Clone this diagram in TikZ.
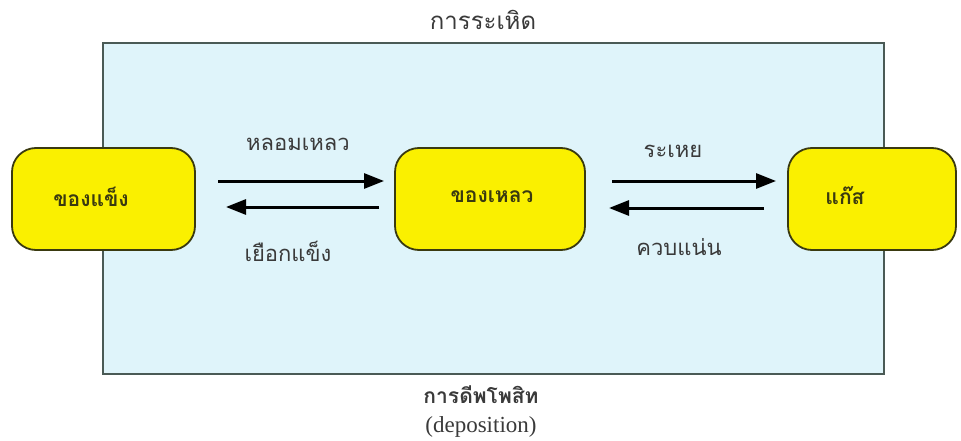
\documentclass[tikz,border=0pt]{standalone}
\usepackage{fontspec}
\newfontfamily\thaifont[Script=Thai]{Loma}
\newfontfamily\serifen{Liberation Serif}
\usetikzlibrary{arrows.meta}
\definecolor{panelfill}{HTML}{DFF4FA}
\definecolor{panelline}{HTML}{4A5A55}
\definecolor{stateyellow}{HTML}{FAF000}
\definecolor{stateline}{HTML}{3A3A10}
\definecolor{labelgray}{HTML}{3A3A3A}
\tikzset{
  statebox/.style={draw=stateline, line width=1.8pt, fill=stateyellow, rounded corners=24pt, minimum height=102pt, inner sep=0pt},
  statetext/.style={font=\thaifont\bfseries\fontsize{21}{24}\selectfont, text=stateline},
  proclabel/.style={font=\thaifont\fontsize{22}{26}\selectfont, text=labelgray},
  flow/.style={line width=3pt, draw=black, -{Triangle[length=20pt,width=15pt]}},
}
\begin{document}
\begin{tikzpicture}[x=1pt,y=-1pt]
\useasboundingbox (0,0) rectangle (961,441);
\fill[white] (0,0) rectangle (961,441);
% panel
\draw[draw=panelline, line width=2.5pt, fill=panelfill] (103,43) rectangle (884,374);
% state boxes
\node[statebox, minimum width=183pt] (solid) at (103.5,199) {};
\node[statebox, minimum width=190pt] (liquid) at (490,199) {};
\node[statebox, minimum width=168pt] (gas) at (872,199) {};
\node[statetext] (solidtxt) at (91,197) {ของแข็ง};
\node[statetext] (liquidtxt) at (492,197) {ของเหลว};
\node[statetext] (gastxt) at (845,196) {แก๊ส};
% arrows
\coordinate (a1s) at (218,181); \coordinate (a1e) at (384,181);
\coordinate (a2s) at (379,207); \coordinate (a2e) at (226,207);
\coordinate (a3s) at (612,181); \coordinate (a3e) at (776,181);
\coordinate (a4s) at (764,208); \coordinate (a4e) at (609,208);
\draw[flow] (a1s) -- (a1e);
\draw[flow] (a2s) -- (a2e);
\draw[flow] (a3s) -- (a3e);
\draw[flow] (a4s) -- (a4e);
% labels
\node[proclabel] (melt) at (298,144) {หลอมเหลว};
\node[proclabel] (freeze) at (288,251) {เยือกแข็ง};
\node[proclabel] (evap) at (673,151) {ระเหย};
\node[proclabel] (cond) at (679,247) {ควบแน่น};
\node[proclabel, font=\thaifont\fontsize{24}{28}\selectfont] (subl) at (483,20) {การระเหิด};
\node[proclabel, font=\thaifont\bfseries\fontsize{21}{24}\selectfont, inner sep=1pt] (depo) at (481,395) {การดีพโพสิท};
\node[font=\serifen\fontsize{23}{26}\selectfont, text=labelgray, inner sep=1pt] (depoen) at (481,427) {(deposition)};
\end{tikzpicture}
\end{document}
